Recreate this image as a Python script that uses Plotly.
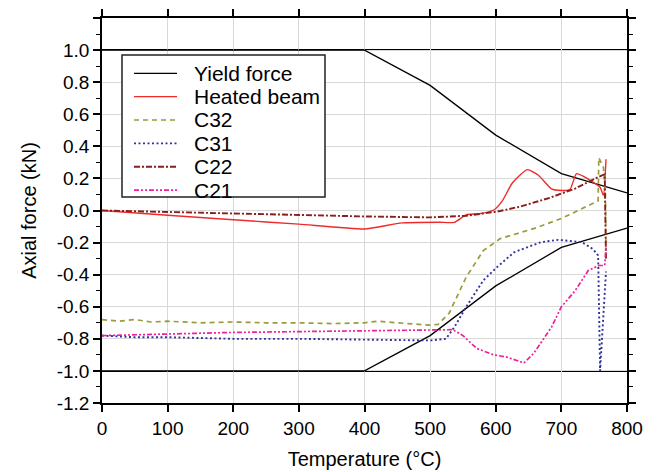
import plotly.graph_objects as go

# ---------------- data ----------------
yield_T = [0, 400, 500, 600, 700, 800]
yield_up = [1.0, 1.0, 0.78, 0.47, 0.23, 0.11]
yield_low = [-1.0, -1.0, -0.78, -0.47, -0.23, -0.11]
yield_limits = [1.0, -1.0]

heated_T = [0, 100, 200, 300, 400, 457, 514, 537, 555, 575, 597, 610, 625, 648, 665, 685, 700, 713, 723, 735, 747, 759, 764, 768]
heated_F = [0.0, -0.03, -0.058, -0.085, -0.115, -0.077, -0.073, -0.074, -0.027, -0.02, 0.003, 0.06, 0.17, 0.255, 0.22, 0.135, 0.125, 0.13, 0.23, 0.21, 0.18, 0.145, 0.095, 0.32]

c32_T = [0, 25, 50, 75, 100, 150, 200, 250, 300, 350, 400, 420, 450, 500, 512, 529, 555, 581, 607, 623, 660, 700, 731, 756, 757, 764, 767, 768]
c32_F = [-0.68, -0.69, -0.68, -0.695, -0.69, -0.70, -0.695, -0.70, -0.70, -0.705, -0.70, -0.69, -0.70, -0.715, -0.71, -0.64, -0.415, -0.25, -0.175, -0.156, -0.11, -0.05, 0.01, 0.06, 0.33, 0.27, 0.13, -0.25]

c31_T = [0, 50, 100, 200, 300, 400, 500, 524, 537, 555, 581, 602, 628, 669, 695, 731, 748, 756, 759, 768]
c31_F = [-0.78, -0.79, -0.79, -0.80, -0.80, -0.805, -0.81, -0.80, -0.727, -0.60, -0.436, -0.353, -0.26, -0.197, -0.183, -0.197, -0.24, -0.28, -1.0, -0.38]

c22_T = [0, 100, 200, 300, 400, 500, 555, 602, 638, 683, 721, 761, 766, 768]
c22_F = [0.0, -0.01, -0.018, -0.027, -0.037, -0.043, -0.033, -0.007, 0.025, 0.08, 0.137, 0.218, 0.225, -0.30]

c21_T = [0, 100, 200, 300, 400, 500, 535, 550, 571, 597, 617, 643, 658, 685, 700, 721, 741, 757, 766, 768]
c21_F = [-0.78, -0.77, -0.76, -0.755, -0.75, -0.745, -0.743, -0.78, -0.86, -0.90, -0.914, -0.95, -0.89, -0.727, -0.60, -0.50, -0.374, -0.343, -0.343, -0.22]

x_ticks = [0, 100, 200, 300, 400, 500, 600, 700, 800]
y_tick_vals = [-1.2, -1.0, -0.8, -0.6, -0.4, -0.2, 0.0, 0.2, 0.4, 0.6, 0.8, 1.0, 1.2]
y_tick_text = ["-1.2", "-1.0", "-0.8", "-0.6", "-0.4", "-0.2", "0.0", "0.2", "0.4", "0.6", "0.8", "1.0", "1.2"]

series = [
    ("Yield force", "black", "solid", 1.3),
    ("Heated beam", "#ee2b2b", "solid", 1.4),
    ("C32", "#9b9b3c", "5px,4px", 1.7),
    ("C31", "#33339c", "2px,2.5px", 1.9),
    ("C22", "#8c1d1d", "6px,2px,2px,2px", 1.9),
    ("C21", "#f0209a", "5px,2px,2px,2px,2px,2px", 1.7),
]
data_map = {
    "Heated beam": (heated_T, heated_F),
    "C32": (c32_T, c32_F),
    "C31": (c31_T, c31_F),
    "C22": (c22_T, c22_F),
    "C21": (c21_T, c21_F),
}

FONT = "Liberation Sans, Arial, Helvetica, sans-serif"
fig = go.Figure()

# reference lines at +/- yield
for yl in yield_limits:
    fig.add_hline(y=yl, line=dict(color="black", width=2), layer="below")

name, col, dash, w = series[0]
for arr in (yield_up, yield_low):
    fig.add_trace(go.Scatter(x=yield_T, y=arr, mode="lines", showlegend=False,
                             line=dict(color=col, width=w, dash=dash)))

for name, col, dash, w in series[1:]:
    xs, ys = data_map[name]
    shape = "spline" if name == "Heated beam" else "linear"
    fig.add_trace(go.Scatter(x=xs, y=ys, mode="lines", name=name, showlegend=False,
                             line=dict(color=col, width=w, dash=dash, shape=shape, smoothing=0.5)))

# ---- plot-area geometry (page pixels) ----
L, R, T, B = 102, 627, 18, 403
W, H = R - L, B - T
PAGE_OFF = 8  # default body margin of the html page
def px(xp):
    return (xp - L) / W
def py(yp):
    return (B - yp) / H

# ---- manual legend (box, sample lines, labels) ----
fig.add_shape(type="rect", xref="paper", yref="paper",
              x0=px(122), x1=px(325), y0=py(197), y1=py(55),
              line=dict(color="#222222", width=1.5), fillcolor="white", layer="above")
row0, drow = 73.3, 23.35
for i, (name, col, dash, w) in enumerate(series):
    yy = py(row0 + i * drow)
    fig.add_shape(type="line", xref="paper", yref="paper",
                  x0=px(134), x1=px(177), y0=yy, y1=yy,
                  line=dict(color=col, width=w, dash=dash), layer="above")
    fig.add_annotation(xref="paper", yref="paper", x=px(192), y=yy,
                       text=name, showarrow=False, xanchor="left", yanchor="middle",
                       font=dict(family=FONT, size=21, color="black"))

fig.update_layout(
    width=658, height=472,
    margin=dict(l=L - PAGE_OFF, r=658 - R + PAGE_OFF, t=T - PAGE_OFF, b=472 - B + PAGE_OFF),
    paper_bgcolor="white", plot_bgcolor="white",
    font=dict(family=FONT, size=19, color="black"),
    showlegend=False,
)
fig.update_xaxes(
    range=[0, 800], tickvals=x_ticks, ticks="outside", ticklen=7, tickwidth=1.5,
    tickcolor="black", showline=True, linecolor="black", linewidth=1.6, mirror="ticks",
    showgrid=True, gridcolor="#d9d9d9", gridwidth=1, zeroline=False, automargin=False,
    title=dict(text="Temperature (°C)", font=dict(size=20), standoff=14),
    tickfont=dict(size=19),
)
fig.update_yaxes(
    range=[-1.2, 1.2], tickvals=y_tick_vals, ticktext=y_tick_text, ticks="outside",
    ticklen=7, tickwidth=1.5, tickcolor="black", showline=True, linecolor="black",
    linewidth=1.6, mirror="ticks", showgrid=True, gridcolor="#d9d9d9", gridwidth=1,
    zeroline=False, automargin=False,
    minor=dict(dtick=0.1, tick0=0, ticks="outside", ticklen=4, tickwidth=1.2,
               tickcolor="black", showgrid=False),
    title=dict(text="Axial force (kN)", font=dict(size=20), standoff=15),
    tickfont=dict(size=19),
)

fig.write_html("out.html")
